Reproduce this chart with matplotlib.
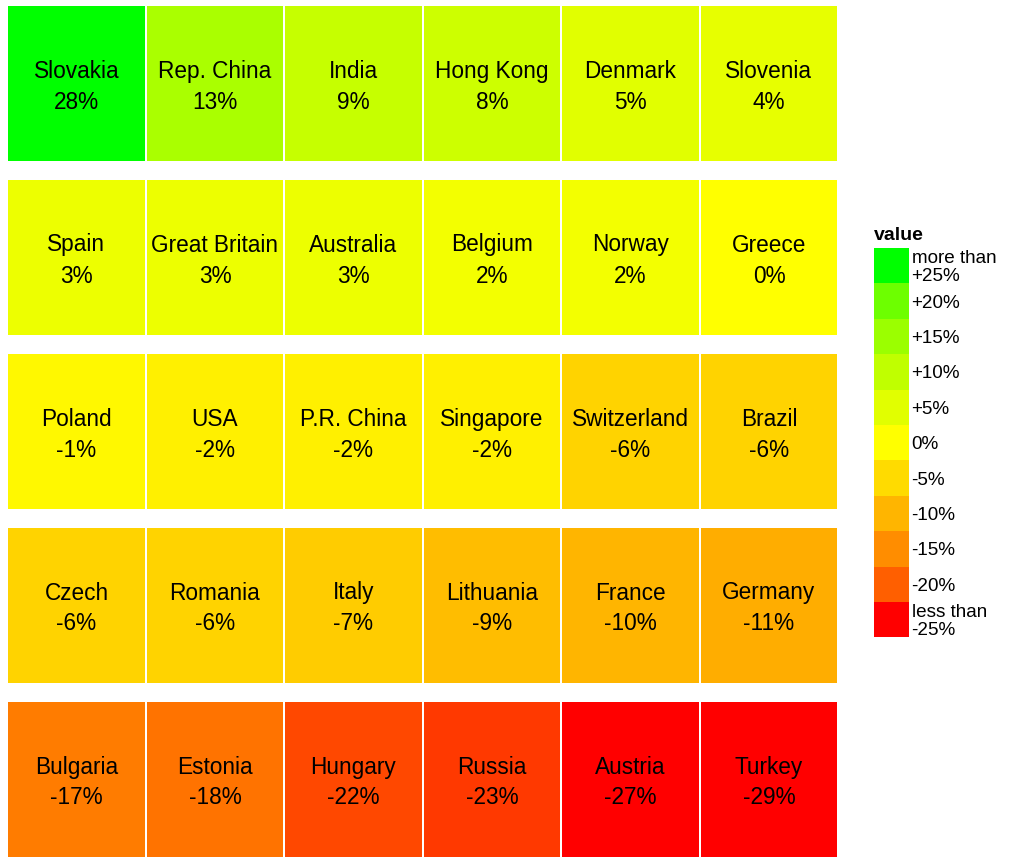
import numpy as np
import matplotlib
matplotlib.use("Agg")
import matplotlib.pyplot as plt
from matplotlib.patches import Rectangle

plt.rcParams['font.family'] = ['Liberation Sans', 'DejaVu Sans']

countries = [
    "Slovakia", "Rep. China", "India", "Hong Kong", "Denmark", "Slovenia",
    "Spain", "Great Britain", "Australia", "Belgium", "Norway", "Greece",
    "Poland", "USA", "P.R. China", "Singapore", "Switzerland", "Brazil",
    "Czech", "Romania", "Italy", "Lithuania", "France", "Germany",
    "Bulgaria", "Estonia", "Hungary", "Russia", "Austria", "Turkey",
]
values = [
    28, 13, 9, 8, 5, 4,
    3, 3, 3, 2, 2, 0,
    -1, -2, -2, -2, -6, -6,
    -6, -6, -7, -9, -10, -11,
    -17, -18, -22, -23, -27, -29,
]
legend_breaks = [25, 20, 15, 10, 5, 0, -5, -10, -15, -20, -25]
legend_labels = ["more than\n+25%", "+20%", "+15%", "+10%", "+5%", "0%",
                 "-5%", "-10%", "-15%", "-20%", "less than\n-25%"]
n_cols = 6
limit = 25

# ---- Lab colour interpolation (red - yellow - green) ----
M = np.array([[0.4124564, 0.3575761, 0.1804375],
              [0.2126729, 0.7151522, 0.0721750],
              [0.0193339, 0.1191920, 0.9503041]])
Minv = np.linalg.inv(M)
WP = np.array([0.95047, 1.0, 1.08883])

def rgb2lab(rgb):
    c = np.asarray(rgb, float)
    lin = np.where(c <= 0.04045, c / 12.92, ((c + 0.055) / 1.055) ** 2.4)
    xyz = M @ lin / WP
    f = np.where(xyz > 216 / 24389, np.cbrt(xyz), (24389 / 27 * xyz + 16) / 116)
    return np.array([116 * f[1] - 16, 500 * (f[0] - f[1]), 200 * (f[1] - f[2])])

def lab2rgb(lab):
    L, a, b = lab
    fy = (L + 16) / 116
    fx = fy + a / 500
    fz = fy - b / 200
    def finv(t):
        return np.where(t ** 3 > 216 / 24389, t ** 3, (116 * t - 16) / (24389 / 27))
    xyz = np.array([finv(fx), finv(fy), finv(fz)]) * WP
    lin = Minv @ xyz
    lin = np.clip(lin, 0, 1)
    c = np.where(lin <= 0.0031308, 12.92 * lin, 1.055 * lin ** (1 / 2.4) - 0.055)
    return np.clip(c, 0, 1)

RED = rgb2lab([1, 0, 0])
YEL = rgb2lab([1, 1, 0])
GRN = rgb2lab([0, 1, 0])

def colour(v):
    t = (np.clip(v, -limit, limit) + limit) / (2 * limit)
    if t <= 0.5:
        s = t / 0.5
        lab = RED + (YEL - RED) * s
    else:
        s = (t - 0.5) / 0.5
        lab = YEL + (GRN - YEL) * s
    return tuple(lab2rgb(lab))

W, H = 1014, 862
fig = plt.figure(figsize=(W / 100, H / 100), dpi=100)

# tile grid axes
col_pitch, tile_w = 138.5, 136.3
row_pitch, tile_h = 174.0, 155.0
n_rows = int(np.ceil(len(values) / n_cols))
x0, y0 = 8.3, 7.0
grid_w = (n_cols - 1) * col_pitch + tile_w
grid_h = (n_rows - 1) * row_pitch + tile_h
ax = fig.add_axes([x0 / W, 1 - (y0 + grid_h) / H, grid_w / W, grid_h / H])
ax.set_xlim(0, (n_cols - 1) + tile_w / col_pitch)
ax.set_ylim((n_rows - 1) + tile_h / row_pitch, 0)
ax.axis('off')
tw = tile_w / col_pitch
th = tile_h / row_pitch
for i, (name, v) in enumerate(zip(countries, values)):
    r, c = divmod(i, n_cols)
    ax.add_patch(Rectangle((c, r), tw, th, facecolor=colour(v), edgecolor='none'))
    cx, cy = c + tw / 2, r + th / 2
    ax.text(cx, cy - 13.5 / row_pitch, name, ha='center', va='center', fontsize=16.3, color='black')
    ax.text(cx, cy + 17.5 / row_pitch, f"{v}%", ha='center', va='center', fontsize=16.3, color='black')

# legend axes
lx, ly_top, sw, sh = 873.5, 249.0, 35.0, 35.4
n_leg = len(legend_breaks)
lax = fig.add_axes([lx / W, 1 - (ly_top + n_leg * sh) / H, 135 / W, n_leg * sh / H])
lax.set_xlim(0, 135)
lax.set_ylim(n_leg * sh, 0)
lax.axis('off')
for j, (b, lab) in enumerate(zip(legend_breaks, legend_labels)):
    lax.add_patch(Rectangle((0, j * sh), sw, sh, facecolor=colour(b), edgecolor='none'))
    lax.text(sw + 3, j * sh + sh / 2 + 1, lab, ha='left', va='center', fontsize=13.6,
             linespacing=1.05, color='black')
fig.text(lx / W, 1 - 235 / H, "value", ha='left', va='center', fontsize=14,
         fontweight='bold', color='black')

fig.savefig("out.png", dpi=100, facecolor='white')
